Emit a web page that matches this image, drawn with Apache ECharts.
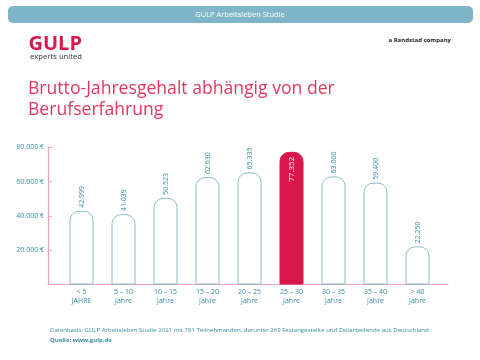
<!DOCTYPE html>
<html>
<head>
<meta charset="utf-8">
<script src="https://cdn.jsdelivr.net/npm/echarts@6/dist/echarts.min.js"></script>
<style>html,body{margin:0;padding:0;background:#fff}#c{width:480px;height:360px}</style>
</head>
<body>
<div id="c"></div>
<script>
const categories = ['< 5\nJAHRE','5 – 10\nJahre','10 – 15\nJahre','15 – 20\nJahre','20 – 25\nJahre','25 – 30\nJahre','30 – 35\nJahre','35 – 40\nJahre','> 40\nJahre'];
const salaries = [42999, 41039, 50523, 62630, 65335, 77352, 63000, 59400, 22250];
const highlightIndex = 5;
const yTicks = [0, 20000, 40000, 60000, 80000];

const teal = '#358ea2';
const crimson = '#d8174a';
const pink = '#f3a3b8';
const fmtNum = v => String(v).replace(/\B(?=(\d{3})+(?!\d))/g, '.');

const chart = echarts.init(document.getElementById('c'), null, {renderer: 'canvas'});
const font = '"Open Sans", "Noto Sans", sans-serif';

chart.setOption({
  animation: false,
  textStyle: {fontFamily: font},
  graphic: [
    {type: 'rect', shape: {x: 8, y: 6, width: 465, height: 17, r: 5}, style: {fill: '#7fb5c8'}},
    {type: 'text', x: 240, y: 14.5, style: {text: 'GULP Arbeitsleben Studie', fill: '#fff', font: '7.5px ' + font, align: 'center', verticalAlign: 'middle'}},
    {type: 'text', x: 28.5, y: 44, style: {text: 'GULP', fill: crimson, font: 'bold 20px ' + font, verticalAlign: 'middle'}},
    {type: 'text', x: 30, y: 57, style: {text: 'experts united', fill: '#333', font: '7.7px ' + font, verticalAlign: 'middle'}},
    {type: 'text', x: 451, y: 40, style: {text: 'a Randstad company', fill: '#222', font: 'bold 6px ' + font, align: 'right', verticalAlign: 'middle'}},
    {type: 'text', x: 28, y: 78, style: {text: 'Brutto-Jahresgehalt abhängig von der\nBerufserfahrung', fill: '#e0385e', font: '17.6px ' + font, lineHeight: 21}},
    {type: 'text', x: 50, y: 330, style: {text: 'Datenbasis: GULP Arbeitsleben Studie 2021 mit 781 Teilnehmenden, darunter 269 Festangestellte und Zeitarbeitende aus Deutschland', fill: teal, font: '6.05px ' + font, verticalAlign: 'middle'}},
    {type: 'text', x: 50, y: 340.5, style: {text: 'Quelle: www.gulp.de', fill: teal, font: 'bold 6px ' + font, verticalAlign: 'middle'}}
  ],
  grid: [
    {left: 48, right: 32, top: 147.3, bottom: 75.5},
    {left: 60.5, width: 378, top: 147.3, bottom: 75.5}
  ],
  xAxis: [
    {type: 'category', gridIndex: 0, data: [''], axisLine: {lineStyle: {color: pink, width: 1.2}}, axisTick: {show: false}, axisLabel: {show: false}},
    {type: 'category', gridIndex: 1, data: categories, axisLine: {show: false}, axisTick: {show: false},
     axisLabel: {color: teal, fontSize: 7, lineHeight: 9, margin: 3, interval: 0}}
  ],
  yAxis: [
    {type: 'value', gridIndex: 0, min: yTicks[0], max: yTicks[yTicks.length - 1], interval: 20000,
     axisLine: {show: true, lineStyle: {color: pink, width: 1.2}},
     axisTick: {show: true, inside: true, length: 4, lineStyle: {color: pink}},
     splitLine: {show: false},
     axisLabel: {color: teal, fontSize: 7, margin: 4, formatter: v => v === 0 ? '' : fmtNum(v) + ' €'}},
    {type: 'value', gridIndex: 1, min: yTicks[0], max: yTicks[yTicks.length - 1], show: false, splitLine: {show: false}}
  ],
  series: [{
    type: 'bar',
    xAxisIndex: 1, yAxisIndex: 1,
    barWidth: 24,
    data: salaries.map((v, i) => i === highlightIndex ? {
      value: v,
      itemStyle: {color: crimson, borderColor: crimson, borderWidth: 1, borderRadius: [9, 9, 0, 0]},
      label: {position: 'insideTop', rotate: 90, align: 'right', verticalAlign: 'middle', color: '#fff', fontSize: 8, distance: 5}
    } : v),
    itemStyle: {color: '#fff', borderColor: '#88bccb', borderWidth: 1, borderRadius: [9, 9, 0, 0]},
    label: {show: true, position: 'top', rotate: 90, align: 'left', verticalAlign: 'middle', distance: 3,
      color: teal, fontSize: 7, formatter: p => fmtNum(p.value)}
  }]
});
</script>
</body>
</html>
